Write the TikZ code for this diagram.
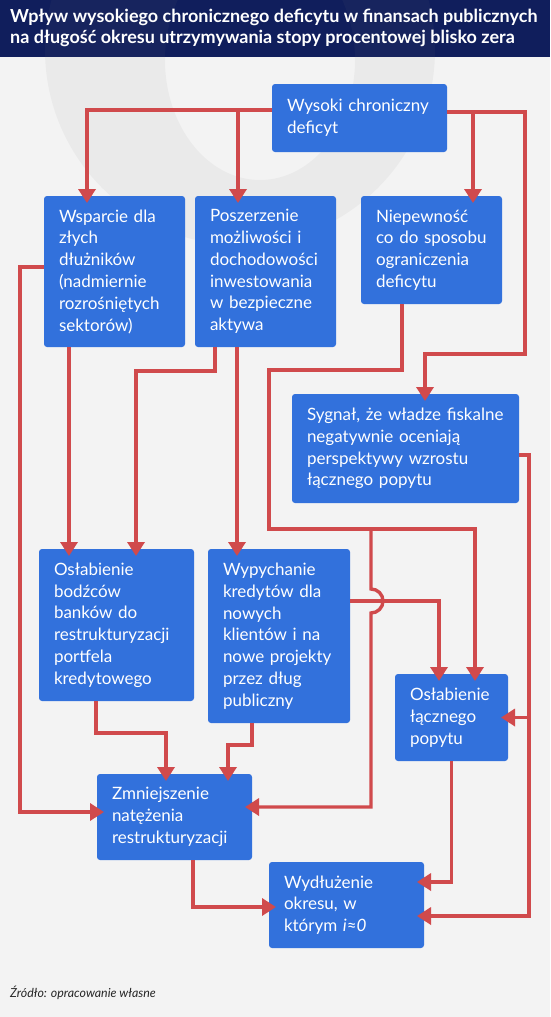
\documentclass[tikz,border=0pt]{standalone}
\usepackage{fontspec}
\setmainfont{Lato}
\usetikzlibrary{arrows.meta}
\definecolor{boxblue}{RGB}{50,113,220}
\definecolor{linkred}{RGB}{208,74,76}
\definecolor{titlenavy}{RGB}{16,30,92}
\definecolor{paper}{RGB}{243,243,243}

\begin{document}
\begin{tikzpicture}[
  x=1pt, y=-1pt,
  box/.style={
    fill=boxblue,
    text=white,
    rounded corners=3pt,
    align=left,
    inner xsep=15pt,
    inner ysep=0pt,
    outer sep=0pt,
    font=\fontsize{17}{21.8}\selectfont
  },
  edge/.style={
    -{Triangle[width=17pt,length=14pt]},
    line width=3.4pt,
    draw=linkred,
    shorten >=-7pt
  }
  ]
  \useasboundingbox (0,0) rectangle (550,1017);
  \fill[paper] (0,0) rectangle (550,1017);
  \fill[titlenavy] (0,0) rectangle (550,57);
  \fill[gray, fill opacity=0.07, even odd rule] (240,50) circle[radius=195] (260,60) ellipse[x radius=95, y radius=120];

  \node[anchor=north west, align=left, text=white, inner sep=0pt, font=\bfseries\fontsize{18}{21}\selectfont] (tytul) at (10,9)
    {Wpływ wysokiego chronicznego deficytu w finansach publicznych\\na długość okresu utrzymywania stopy procentowej blisko zera};

  \node[box, text width=145pt, minimum height=68pt] (deficyt) at (359.5,118) {Wysoki chroniczny\\deficyt};
  \node[box, text width=111pt, minimum height=151pt] (wsparcie) at (114.5,271.5) {Wsparcie dla\\złych\\dłużników\\(nadmiernie\\rozrośniętych\\sektorów)};
  \node[box, text width=111pt, minimum height=151pt] (poszerzenie) at (265.5,271.5) {Poszerzenie\\możliwości i\\dochodowości\\inwestowania\\w bezpieczne\\aktywa};
  \node[box, text width=111pt, minimum height=108pt] (niepewnosc) at (431.5,250) {Niepewność\\co do sposobu\\ograniczenia\\deficytu};
  \node[box, text width=197pt, minimum height=109pt] (sygnal) at (405.5,448.5) {Sygnał, że władze fiskalne\\negatywnie oceniają\\perspektywy wzrostu\\łącznego popytu};
  \node[box, text width=125pt, minimum height=152pt] (bodzce) at (116.5,625) {Osłabienie\\bodźców\\banków do\\restrukturyzacji\\portfela\\kredytowego};
  \node[box, text width=112pt, minimum height=174pt] (wypychanie) at (279,636) {Wypychanie\\kredytów dla\\nowych\\klientów i na\\nowe projekty\\przez dług\\publiczny};
  \node[box, text width=83pt, minimum height=87pt] (popyt) at (451.5,717.5) {Osłabienie\\łącznego\\popytu};
  \node[box, text width=125pt, minimum height=86pt] (zmniejszenie) at (174.5,817) {Zmniejszenie\\natężenia\\restrukturyzacji};
  \node[box, text width=125pt, minimum height=86pt] (wydluzenie) at (346.5,905) {Wydłużenie\\okresu, w\\którym \textit{i}≈\textit{0}};

  \node[anchor=base west, inner sep=0pt, text=black!85, font=\itshape\fontsize{12.4}{14}\selectfont] (zrodlo) at (10,997) {Źródło: opracowanie własne};

  \coordinate (zbieg) at (525,354);
  \coordinate (rozwidlenie) at (269,529);
  \coordinate (mostek) at (371,529);

  \draw[edge] ([yshift=8pt]deficyt.west) -| ([xshift=-27.5pt]wsparcie.north);
  \draw[edge] ([yshift=8pt]deficyt.west) -| ([xshift=-27.5pt]poszerzenie.north);
  \draw[edge] ([yshift=6pt]deficyt.east) -| ([xshift=41.5pt]niepewnosc.north);
  \draw[edge] ([yshift=6pt]deficyt.east) -| (zbieg) -| ([xshift=19.5pt]sygnal.north);
  \draw[edge] ([yshift=4.5pt]wsparcie.west) -- ++(-24,0) |- ([yshift=5pt]zmniejszenie.west);
  \draw[edge] ([xshift=-45.5pt]wsparcie.south) -- ([xshift=-45.5pt]wsparcie.south |- bodzce.north);
  \draw[edge] ([xshift=-50.5pt]poszerzenie.south) -- ++(0,24) -| ([xshift=19.5pt]bodzce.north);
  \draw[edge] ([xshift=-28.5pt]poszerzenie.south) -- ([xshift=-28.5pt]poszerzenie.south |- wypychanie.north);
  \draw[edge] ([xshift=-29.5pt]niepewnosc.south) -- ++(0,66) -| (rozwidlenie) -| ([xshift=23.5pt]popyt.north);
  \draw[edge] (mostek) -- ++(0,60) arc[start angle=-90, end angle=90, radius=12] |- ([yshift=10pt]zmniejszenie.east);
  \draw[edge] ([yshift=35pt]wypychanie.east) -| ([xshift=-12.5pt]popyt.north);
  \draw[edge] ([yshift=-6.5pt]sygnal.east) -- ++(10,0) |- ([yshift=-11pt]wydluzenie.east);
  \draw[edge] ([yshift=-6.5pt]sygnal.east) -- ++(10,0) |- (popyt.east);
  \draw[edge] ([xshift=-20.5pt]bodzce.south) -- ++(0,32) -| ([xshift=-8.5pt]zmniejszenie.north);
  \draw[edge] ([xshift=-27pt]wypychanie.south) -- ++(0,22) -| ([xshift=53.5pt]zmniejszenie.north);
  \draw[edge] ([xshift=18.5pt]zmniejszenie.south) |- ([yshift=-2pt]wydluzenie.west);
  \draw[edge] (popyt.south) |- ([yshift=23pt]wydluzenie.east);
\end{tikzpicture}
\end{document}
